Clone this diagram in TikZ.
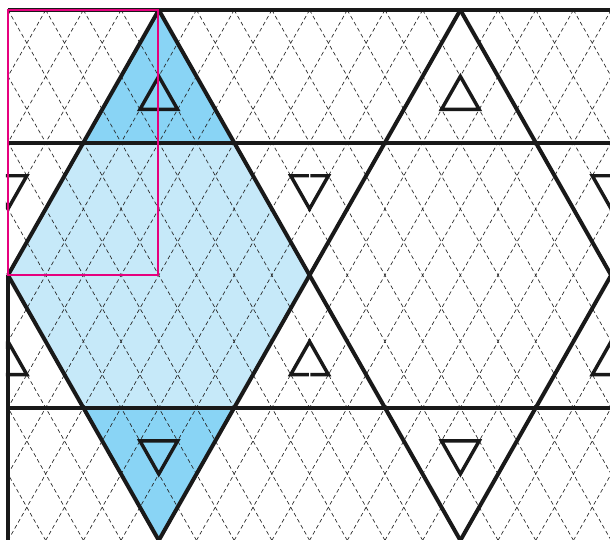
\documentclass[tikz,border=0pt]{standalone}
\usepackage{xcolor}
\definecolor{paleBlue}{RGB}{198,233,249}
\definecolor{deepBlue}{RGB}{137,212,245}
\definecolor{cellPink}{RGB}{230,0,126}
\tikzset{
    % Colors
    fillPale/.style={fill=paleBlue, draw=none},
    fillDeep/.style={fill=deepBlue, draw=none},
    % Lines
    lattice/.style={draw=black!85, line width=0.5pt, dash pattern=on 3pt off 2.2pt},
    bold/.style={draw=black!90, line width=3pt, line join=miter},
    mark tri/.style={draw=black!90, line width=2.6pt, line join=miter},
    cell/.style={draw=cellPink, line width=1.5pt}
}

\begin{document}
\begin{tikzpicture}[x=0.5cm, y=-0.8793cm]
\useasboundingbox (-0.424,-0.302) rectangle (31.94,15.96);

% corners of the shaded rhombus
\coordinate (apexA) at (8,0);
\coordinate (apexB) at (24,0);
\coordinate (west) at (0,8);
\coordinate (east) at (16,8);
\coordinate (far) at (32,8);
\coordinate (foot) at (8,16);

\fill[fillPale] (apexA) -- (east) -- (foot) -- (west) -- cycle;
\fill[fillDeep] (apexA) -- (4,4) -- (12,4) -- cycle;
\fill[fillDeep] (foot) -- (4,12) -- (12,12) -- cycle;

\begin{scope}
\clip (0,0) rectangle (32,16);
\foreach \c in {-16,-14,...,32}
    \draw[lattice] (\c,0) -- ++(16,16);
\foreach \c in {0,2,...,48}
    \draw[lattice] (\c,0) -- ++(-16,16);
\end{scope}

\begin{scope}
\clip (-0.11,-0.2) rectangle (33,17);
% big triangles
\draw[bold] (0,0) -- (32.5,0);
\draw[bold] (0,4) -- (32.5,4);
\draw[bold] (0,12) -- (32.5,12);
\draw[bold] (west) -- (0,16);
\draw[bold] (apexA) -- (24,16);
\draw[bold] (west) -- (foot);
\draw[bold] (apexB) -- (far) -- (33,9);
\draw[bold] (apexA) -- (west);
\draw[bold] (apexB) -- (foot);
\draw[bold] (33,7) -- (far) -- (24,16);
% small triangles
\foreach \x in {8,24} {
    \draw[mark tri] (\x,2) -- (\x-1,3) -- (\x+1,3) -- cycle;
    \draw[mark tri] (\x,14) -- (\x-1,13) -- (\x+1,13) -- cycle;
}
\foreach \x in {0,32} {
    \draw[mark tri] (\x,6) -- (\x-1,5) -- (\x+1,5) -- cycle;
    \draw[mark tri] (\x,10) -- (\x-1,11) -- (\x+1,11) -- cycle;
}
\draw[mark tri] (15.96,5) -- (15,5) -- (16,6) -- (17,5) -- (16.04,5);
\draw[mark tri] (15.96,11) -- (15,11) -- (16,10) -- (17,11) -- (16.04,11);
\end{scope}

\draw[cell] (0,0) rectangle (7.95,8);

\end{tikzpicture}
\end{document}
